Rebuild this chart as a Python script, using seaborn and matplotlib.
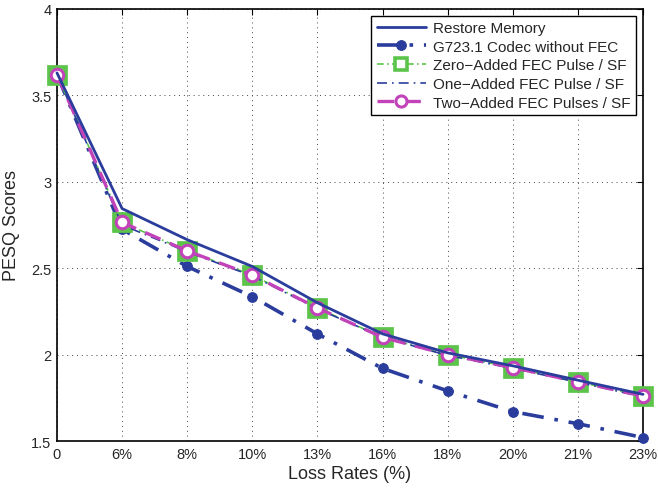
import numpy as np
import pandas as pd
import matplotlib
matplotlib.use('Agg')
import matplotlib.pyplot as plt
import seaborn as sns

# loss rates on the x axis (evenly spaced categories)
loss_labels = ['0', '6%', '8%', '10%', '13%', '16%', '18%', '20%', '21%', '23%']

# PESQ scores
restore_memory = [3.63, 2.845, 2.665, 2.51, 2.30, 2.12, 2.01, 1.935, 1.852, 1.77]
g723_no_fec = [3.62, 2.725, 2.51, 2.335, 2.12, 1.92, 1.79, 1.67, 1.60, 1.52]
zero_added = [3.62, 2.765, 2.60, 2.46, 2.27, 2.10, 2.00, 1.925, 1.843, 1.76]
one_added = [3.62, 2.75, 2.595, 2.455, 2.265, 2.10, 1.995, 1.92, 1.84, 1.755]
two_added = [3.62, 2.765, 2.60, 2.46, 2.27, 2.10, 2.00, 1.925, 1.843, 1.76]

sns.set_style('white')
plt.rcParams['font.family'] = ['Liberation Sans', 'DejaVu Sans']

blue = '#2b3d9c'
green = '#5cc44a'
magenta = '#c243b9'

pos = np.arange(len(loss_labels))

fig = plt.figure(figsize=(6.58, 4.89), dpi=100)
ax = fig.add_axes([0.0866, 0.0961, 0.8906, 0.8835])

sns.lineplot(x=pos, y=restore_memory, ax=ax, color=blue, lw=2.0,
             label='Restore Memory', zorder=5, clip_on=False)
sns.lineplot(x=pos, y=g723_no_fec, ax=ax, color=blue, lw=2.6, linestyle=(0, (6, 3, 1, 3)),
             marker='o', markersize=7, markeredgecolor=blue, markerfacecolor=blue,
             label='G723.1 Codec without FEC', zorder=2, clip_on=False)
sns.lineplot(x=pos, y=zero_added, ax=ax, color=green, lw=1.2, linestyle=(0, (4, 2, 1, 2)),
             marker='s', markersize=12, markeredgewidth=3.4, markeredgecolor=green,
             markerfacecolor='white', label='Zero\u2212Added FEC Pulse / SF', zorder=3,
             clip_on=False)
sns.lineplot(x=pos, y=one_added, ax=ax, color=blue, lw=1.2, linestyle=(0, (6, 3, 1, 3)),
             label='One\u2212Added FEC Pulse / SF', zorder=4, clip_on=False)
sns.lineplot(x=pos, y=two_added, ax=ax, color=magenta, lw=2.4, linestyle=(0, (5, 3)),
             marker='o', markersize=9, markeredgewidth=2.2, markeredgecolor=magenta,
             markerfacecolor='white', label='Two\u2212Added FEC Pulses / SF', zorder=4,
             clip_on=False)

ax.set_xlim(0, len(loss_labels) - 1)
ax.set_ylim(1.5, 4)
ax.set_xticks(pos)
ax.set_xticklabels(loss_labels)
ax.set_yticks([1.5, 2, 2.5, 3, 3.5, 4])
ax.set_yticklabels(['1.5', '2', '2.5', '3', '3.5', '4'])
ax.tick_params(direction='in', length=4, width=0.8, labelsize=10.5, top=True, right=True,
               color='black', pad=4)
ax.grid(True, linestyle=(0, (1, 4)), color='#444444', lw=0.7)
for sp in ax.spines.values():
    sp.set_visible(True)
    sp.set_color('black')
    sp.set_linewidth(1.2)
    sp.set_zorder(1)

ax.set_xlabel('Loss Rates (%)', fontsize=13, labelpad=3)
ax.set_ylabel('PESQ Scores', fontsize=13, labelpad=8)

leg = ax.legend(loc='upper right', fontsize=11, handlelength=3.2, borderpad=0.35,
                labelspacing=0.3, handletextpad=0.5, fancybox=False, framealpha=1,
                edgecolor='black', borderaxespad=0.45)
leg.get_frame().set_linewidth(1.0)
leg.set_zorder(10)
for h in leg.legend_handles:
    if h.get_marker() == 's':
        h.set_markersize(9)
        h.set_markeredgewidth(2.6)
    elif h.get_marker() == 'o' and h.get_color() == magenta:
        h.set_markersize(8)

fig.savefig('out.png', dpi=100)
